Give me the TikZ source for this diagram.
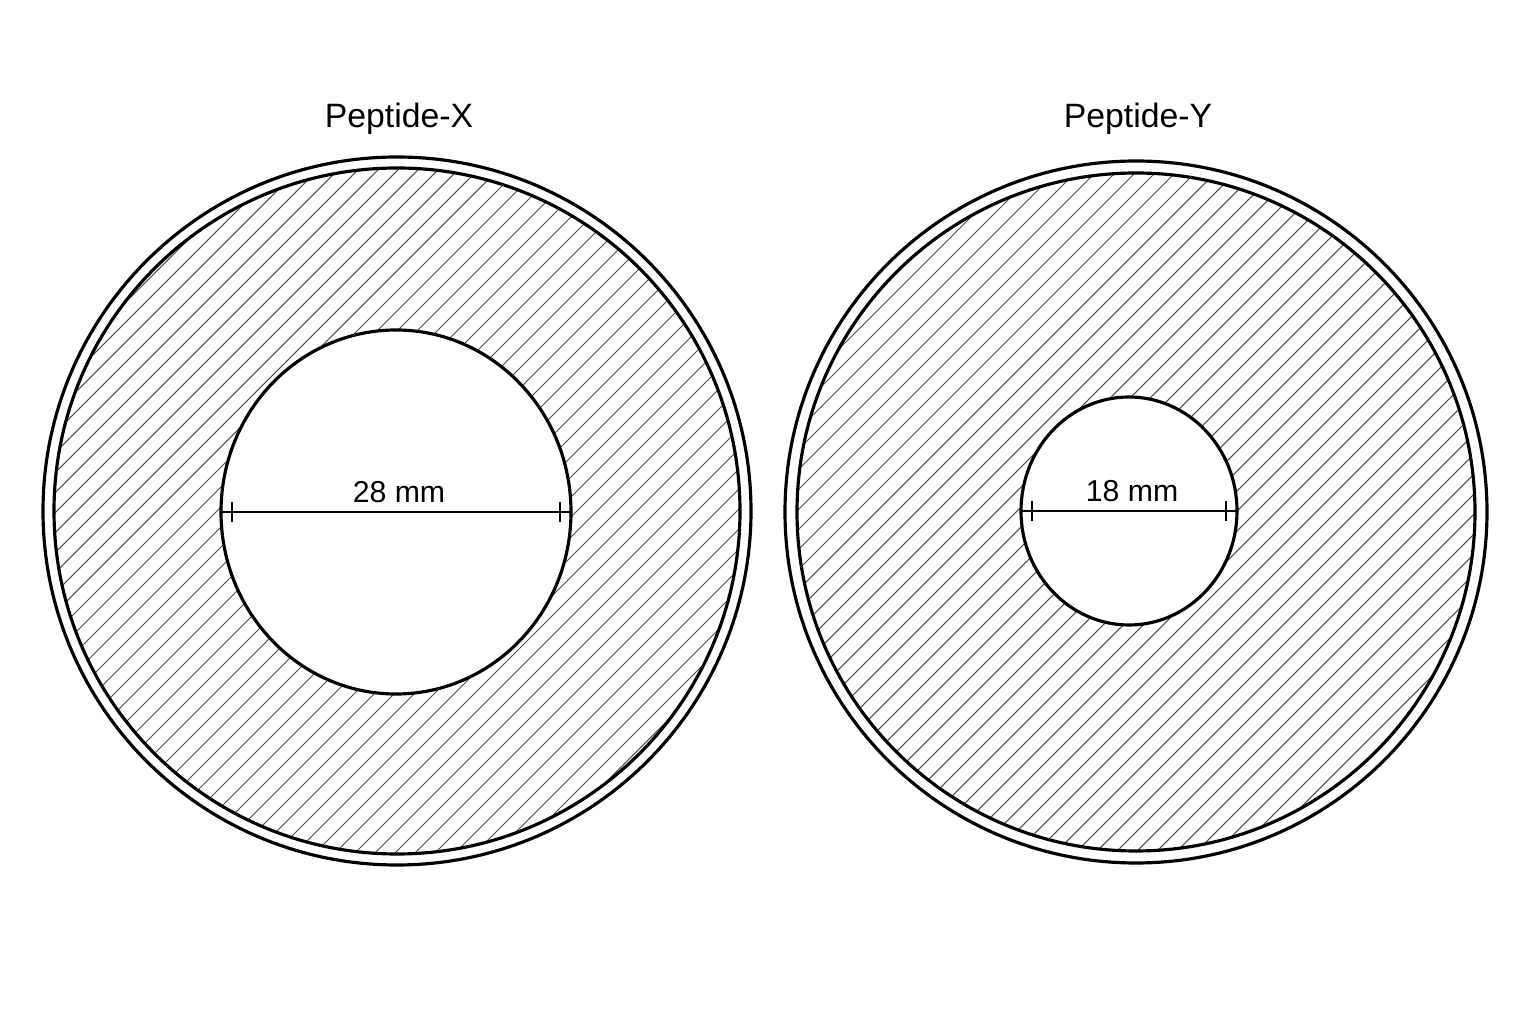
\documentclass[tikz,border=0pt]{standalone}
\usepackage{fontspec}
\setmainfont{Liberation Sans}
\usetikzlibrary{calc}

\begin{document}
\begin{tikzpicture}[x=0.01cm, y=0.01cm,
        rim/.style={line width=0.9pt},
        hatch/.style={line width=0.3pt, black!70},
        dimline/.style={line width=0.6pt},
        title/.style={font=\fontsize{9.6}{11}\selectfont},
        dimlabel/.style={font=\fontsize{8.6}{10}\selectfont, inner sep=0pt}]
    \useasboundingbox (0,0) rectangle (1536,1024);
    % outer centre / radii, then hole centre / radii
    \foreach \cx/\cy/\ro/\ri/\hx/\hy/\rx/\ry/\name/\dia in
        {397/513/354/343/396/512/175/182/X/28, 1136/512/351/339/1129/513/108/114/Y/18} {
        \coordinate (c\name) at (\cx,\cy);
        \coordinate (h\name) at (\hx,\hy);
        \begin{scope}[even odd rule]
            \clip (c\name) circle (\ri) (h\name) ellipse ({\rx} and {\ry});
            \foreach \k in {-520,-500,...,520}
                \draw[hatch] (\cx+\k-400,\cy-400) -- ++(800,800);
        \end{scope}
        \draw[rim] (c\name) circle (\ro);
        \draw[rim] (c\name) circle (\ri);
        \draw[rim] (h\name) ellipse ({\rx} and {\ry});
        \node[title] (t\name) at (\cx+2,905) {Peptide-\name};
        \coordinate (l\name) at (\hx-\rx,\hy);
        \coordinate (r\name) at (\hx+\rx,\hy);
        \draw[dimline] (l\name) -- (r\name);
        \draw[dimline] ($(l\name)+(11,-10)$) -- ++(0,20);
        \draw[dimline] ($(r\name)+(-11,-10)$) -- ++(0,20);
        \node[dimlabel] (d\name) at ($(h\name)+(3,20)$) {\dia\ mm};
    }
\end{tikzpicture}
\end{document}
